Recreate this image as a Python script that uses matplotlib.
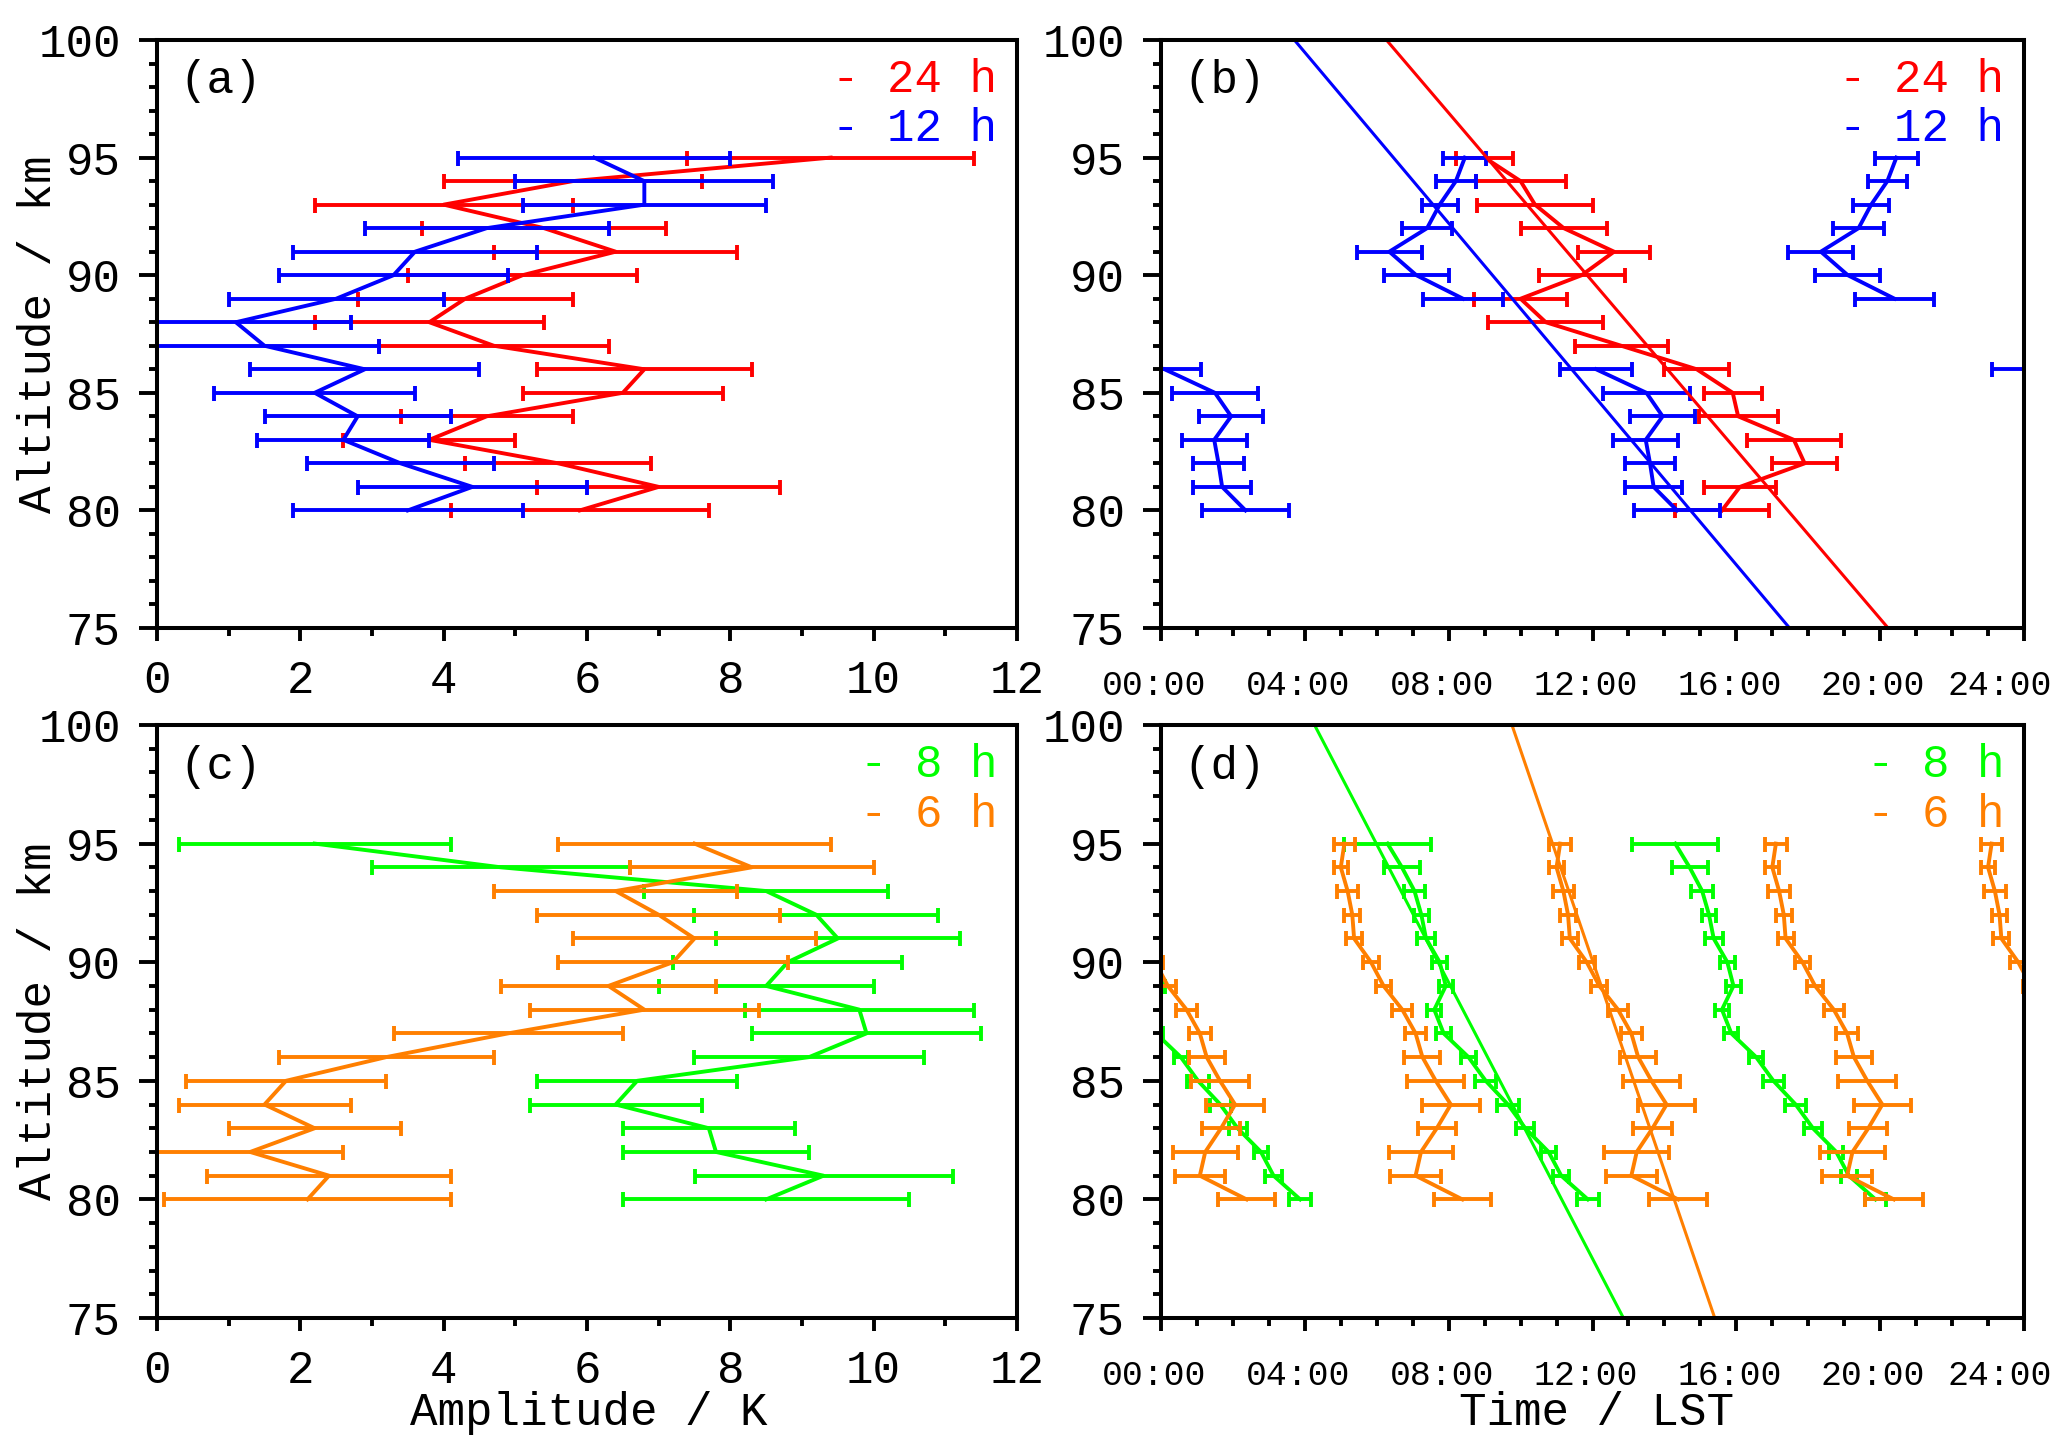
import matplotlib
matplotlib.use('Agg')
import matplotlib.pyplot as plt
import matplotlib.transforms as mtransforms
import numpy as np
from matplotlib.ticker import MultipleLocator, FuncFormatter

plt.rcParams['font.family'] = ['Liberation Mono', 'DejaVu Sans Mono']

# altitudes / km
alt = np.arange(80, 96)

# amplitudes / K (80 km -> 95 km)
amp24 = [5.9, 7.0, 5.6, 3.8, 4.6, 6.5, 6.8, 4.7, 3.8, 4.3, 5.1, 6.4, 5.4, 4.0, 5.8, 9.4]
err_amp24 = [1.8, 1.7, 1.3, 1.2, 1.2, 1.4, 1.5, 1.6, 1.6, 1.5, 1.6, 1.7, 1.7, 1.8, 1.8, 2.0]
amp12 = [3.5, 4.4, 3.4, 2.6, 2.8, 2.2, 2.9, 1.5, 1.1, 2.5, 3.3, 3.6, 4.6, 6.8, 6.8, 6.1]
err_amp12 = [1.6, 1.6, 1.3, 1.2, 1.3, 1.4, 1.6, 1.6, 1.6, 1.5, 1.6, 1.7, 1.7, 1.7, 1.8, 1.9]
amp8 = [8.5, 9.3, 7.8, 7.7, 6.4, 6.7, 9.1, 9.9, 9.8, 8.5, 8.8, 9.5, 9.2, 8.5, 4.8, 2.2]
err_amp8 = [2.0, 1.8, 1.3, 1.2, 1.2, 1.4, 1.6, 1.6, 1.6, 1.5, 1.6, 1.7, 1.7, 1.7, 1.8, 1.9]
amp6 = [2.1, 2.4, 1.3, 2.2, 1.5, 1.8, 3.2, 4.9, 6.8, 6.3, 7.2, 7.5, 7.0, 6.4, 8.3, 7.5]
err_amp6 = [2.0, 1.7, 1.3, 1.2, 1.2, 1.4, 1.5, 1.6, 1.6, 1.5, 1.6, 1.7, 1.7, 1.7, 1.7, 1.9]

# phases / h LST (unwrapped, 80 km -> 95 km)
ph24 = [15.6, 16.1, 17.9, 17.6, 16.05, 15.9, 14.9, 12.8, 10.7, 10.0, 11.7, 12.6, 11.2, 10.4, 10.0, 9.0]
err_ph24 = [1.3, 1.0, 0.9, 1.3, 1.1, 0.8, 0.9, 1.3, 1.6, 1.3, 1.2, 1.0, 1.2, 1.6, 1.25, 0.8]
ph12 = [14.35, 13.7, 13.6, 13.48, 13.95, 13.5, 12.1, np.nan, np.nan, 8.4, 7.1, 6.35, 7.4, 7.75, 8.2, 8.45]
err_ph12 = [1.2, 0.8, 0.7, 0.9, 0.9, 1.2, 1.0, np.nan, np.nan, 1.1, 0.9, 0.9, 0.7, 0.5, 0.55, 0.6]
ph8 = [11.87, 11.13, 10.78, 10.13, 9.65, 9.03, 8.55, 7.86, 7.6, 7.92, 7.75, 7.37, 7.24, 7.05, 6.7, 6.3]
err_ph8 = [0.3, 0.23, 0.2, 0.25, 0.3, 0.3, 0.2, 0.2, 0.2, 0.2, 0.2, 0.25, 0.2, 0.3, 0.5, 1.2]
ph6 = [14.38, 13.08, 13.23, 13.67, 14.06, 13.64, 13.27, 13.08, 12.71, 12.19, 11.84, 11.37, 11.32, 11.19, 11.0, 11.1]
err_ph6 = [0.8, 0.7, 0.9, 0.53, 0.8, 0.8, 0.5, 0.3, 0.28, 0.22, 0.22, 0.22, 0.22, 0.3, 0.2, 0.3]

# linear phase fits: time at 100 km and 75 km
fit_alt = [100, 75]
fit24 = [6.27, 20.22]
fit12 = [3.71, 17.48]
fit8 = [4.27, 12.86]
fit6 = [9.76, 15.4]

c24, c12, c8, c6 = '#ff0000', '#0000ff', '#00ff00', '#ff7f00'

FS = 33
LW = 2.8
FIT_LW = 2.2
W, H = 2067, 1456

fig = plt.figure(figsize=(W / 100, H / 100), dpi=100)


def make_axes(px):
    l, r, t, b = px
    return fig.add_axes([l / W, 1 - b / H, (r - l) / W, (b - t) / H])


ax_a = make_axes((157, 1017, 40, 628))
ax_b = make_axes((1161, 2024, 40, 628))
ax_c = make_axes((157, 1017, 725, 1318))
ax_d = make_axes((1161, 2024, 725, 1318))


def style(ax, time_axis):
    ax.set_ylim(75, 100)
    ax.yaxis.set_major_locator(MultipleLocator(5))
    ax.yaxis.set_minor_locator(MultipleLocator(1))
    if time_axis:
        ax.set_xlim(0, 24)
        ax.xaxis.set_major_locator(MultipleLocator(4))
        ax.xaxis.set_minor_locator(MultipleLocator(1))
        ax.xaxis.set_major_formatter(FuncFormatter(lambda v, p: '%02d:00' % int(round(v))))
        ax.tick_params(axis='x', which='major', labelsize=25, pad=20)
    else:
        ax.set_xlim(0, 12)
        ax.xaxis.set_major_locator(MultipleLocator(2))
        ax.xaxis.set_minor_locator(MultipleLocator(1))
        ax.tick_params(axis='x', which='major', labelsize=FS, pad=13)
    ax.tick_params(axis='y', which='major', labelsize=FS, pad=13, length=13, width=2.8)
    ax.tick_params(axis='y', which='minor', length=6, width=2.8)
    ax.tick_params(axis='x', which='major', length=9.5, width=2.8)
    ax.tick_params(axis='x', which='minor', length=6, width=2.8)
    ax.tick_params(which='both', direction='out', top=False, right=False)
    for s in ax.spines.values():
        s.set_linewidth(2.9)


def amp_profile(ax, amp, err, color):
    amp = np.array(amp, dtype=float)
    err = np.array(err, dtype=float)
    ax.plot(amp, alt, color=color, lw=LW)
    ax.errorbar(amp, alt, xerr=err, fmt='none', ecolor=color, elinewidth=LW,
                capsize=5.4, capthick=LW)


def phase_profile(ax, ph, err, period, color, shifts):
    ph = np.array(ph, dtype=float)
    err = np.array(err, dtype=float)
    ok = np.isfinite(ph)
    for k in shifts:
        shifted = ph + k * period
        ax.plot(shifted, alt, color=color, lw=LW)
        ax.errorbar(shifted[ok], alt[ok], xerr=err[ok], fmt='none', ecolor=color,
                    elinewidth=LW, capsize=5.4, capthick=LW)


def legend(ax, entries):
    for (txt, color), y in zip(entries, [0.932, 0.848]):
        ax.text(0.977, y, txt, color=color, fontsize=FS, ha='right', va='center',
                transform=ax.transAxes)


def panel_label(ax, txt):
    ax.text(0.026, 0.93, txt, fontsize=FS, ha='left', va='center', transform=ax.transAxes)


# (a)
amp_profile(ax_a, amp24, err_amp24, c24)
amp_profile(ax_a, amp12, err_amp12, c12)
style(ax_a, False)
legend(ax_a, [('- 24 h', c24), ('- 12 h', c12)])
panel_label(ax_a, '(a)')
ax_a.set_ylabel('Altitude / km', fontsize=FS)
ax_a.yaxis.set_label_coords(-0.112, 0.5)

# (b)
phase_profile(ax_b, ph24, err_ph24, 24, c24, [0])
phase_profile(ax_b, ph12, err_ph12, 12, c12, [-1, 0, 1])
ax_b.plot(fit24, fit_alt, color=c24, lw=FIT_LW)
ax_b.plot(fit12, fit_alt, color=c12, lw=FIT_LW)
style(ax_b, True)
legend(ax_b, [('- 24 h', c24), ('- 12 h', c12)])
panel_label(ax_b, '(b)')

# (c)
amp_profile(ax_c, amp8, err_amp8, c8)
amp_profile(ax_c, amp6, err_amp6, c6)
style(ax_c, False)
legend(ax_c, [('- 8 h', c8), ('- 6 h', c6)])
panel_label(ax_c, '(c)')
ax_c.set_ylabel('Altitude / km', fontsize=FS)
ax_c.yaxis.set_label_coords(-0.112, 0.5)
ax_c.set_xlabel('Amplitude / K', fontsize=FS)
ax_c.xaxis.set_label_coords(0.502, -0.123)

# (d)
phase_profile(ax_d, ph8, err_ph8, 8, c8, [-1, 0, 1])
phase_profile(ax_d, ph6, err_ph6, 6, c6, [-2, -1, 0, 1, 2])
ax_d.plot(fit8, fit_alt, color=c8, lw=FIT_LW)
ax_d.plot(fit6, fit_alt, color=c6, lw=FIT_LW)
style(ax_d, True)
legend(ax_d, [('- 8 h', c8), ('- 6 h', c6)])
panel_label(ax_d, '(d)')
ax_d.set_xlabel('Time / LST', fontsize=FS)
ax_d.xaxis.set_label_coords(0.505, -0.123)

# time labels sit a little left of their ticks; the last one is pulled inside
fig.canvas.draw()
for ax in (ax_b, ax_d):
    labels = ax.get_xticklabels()
    for lbl in labels:
        dx = -24 if lbl.get_text() == '24:00' else -7
        off = mtransforms.ScaledTranslation(dx / 100, 0, fig.dpi_scale_trans)
        lbl.set_transform(lbl.get_transform() + off)

fig.savefig('out.png', dpi=100)
